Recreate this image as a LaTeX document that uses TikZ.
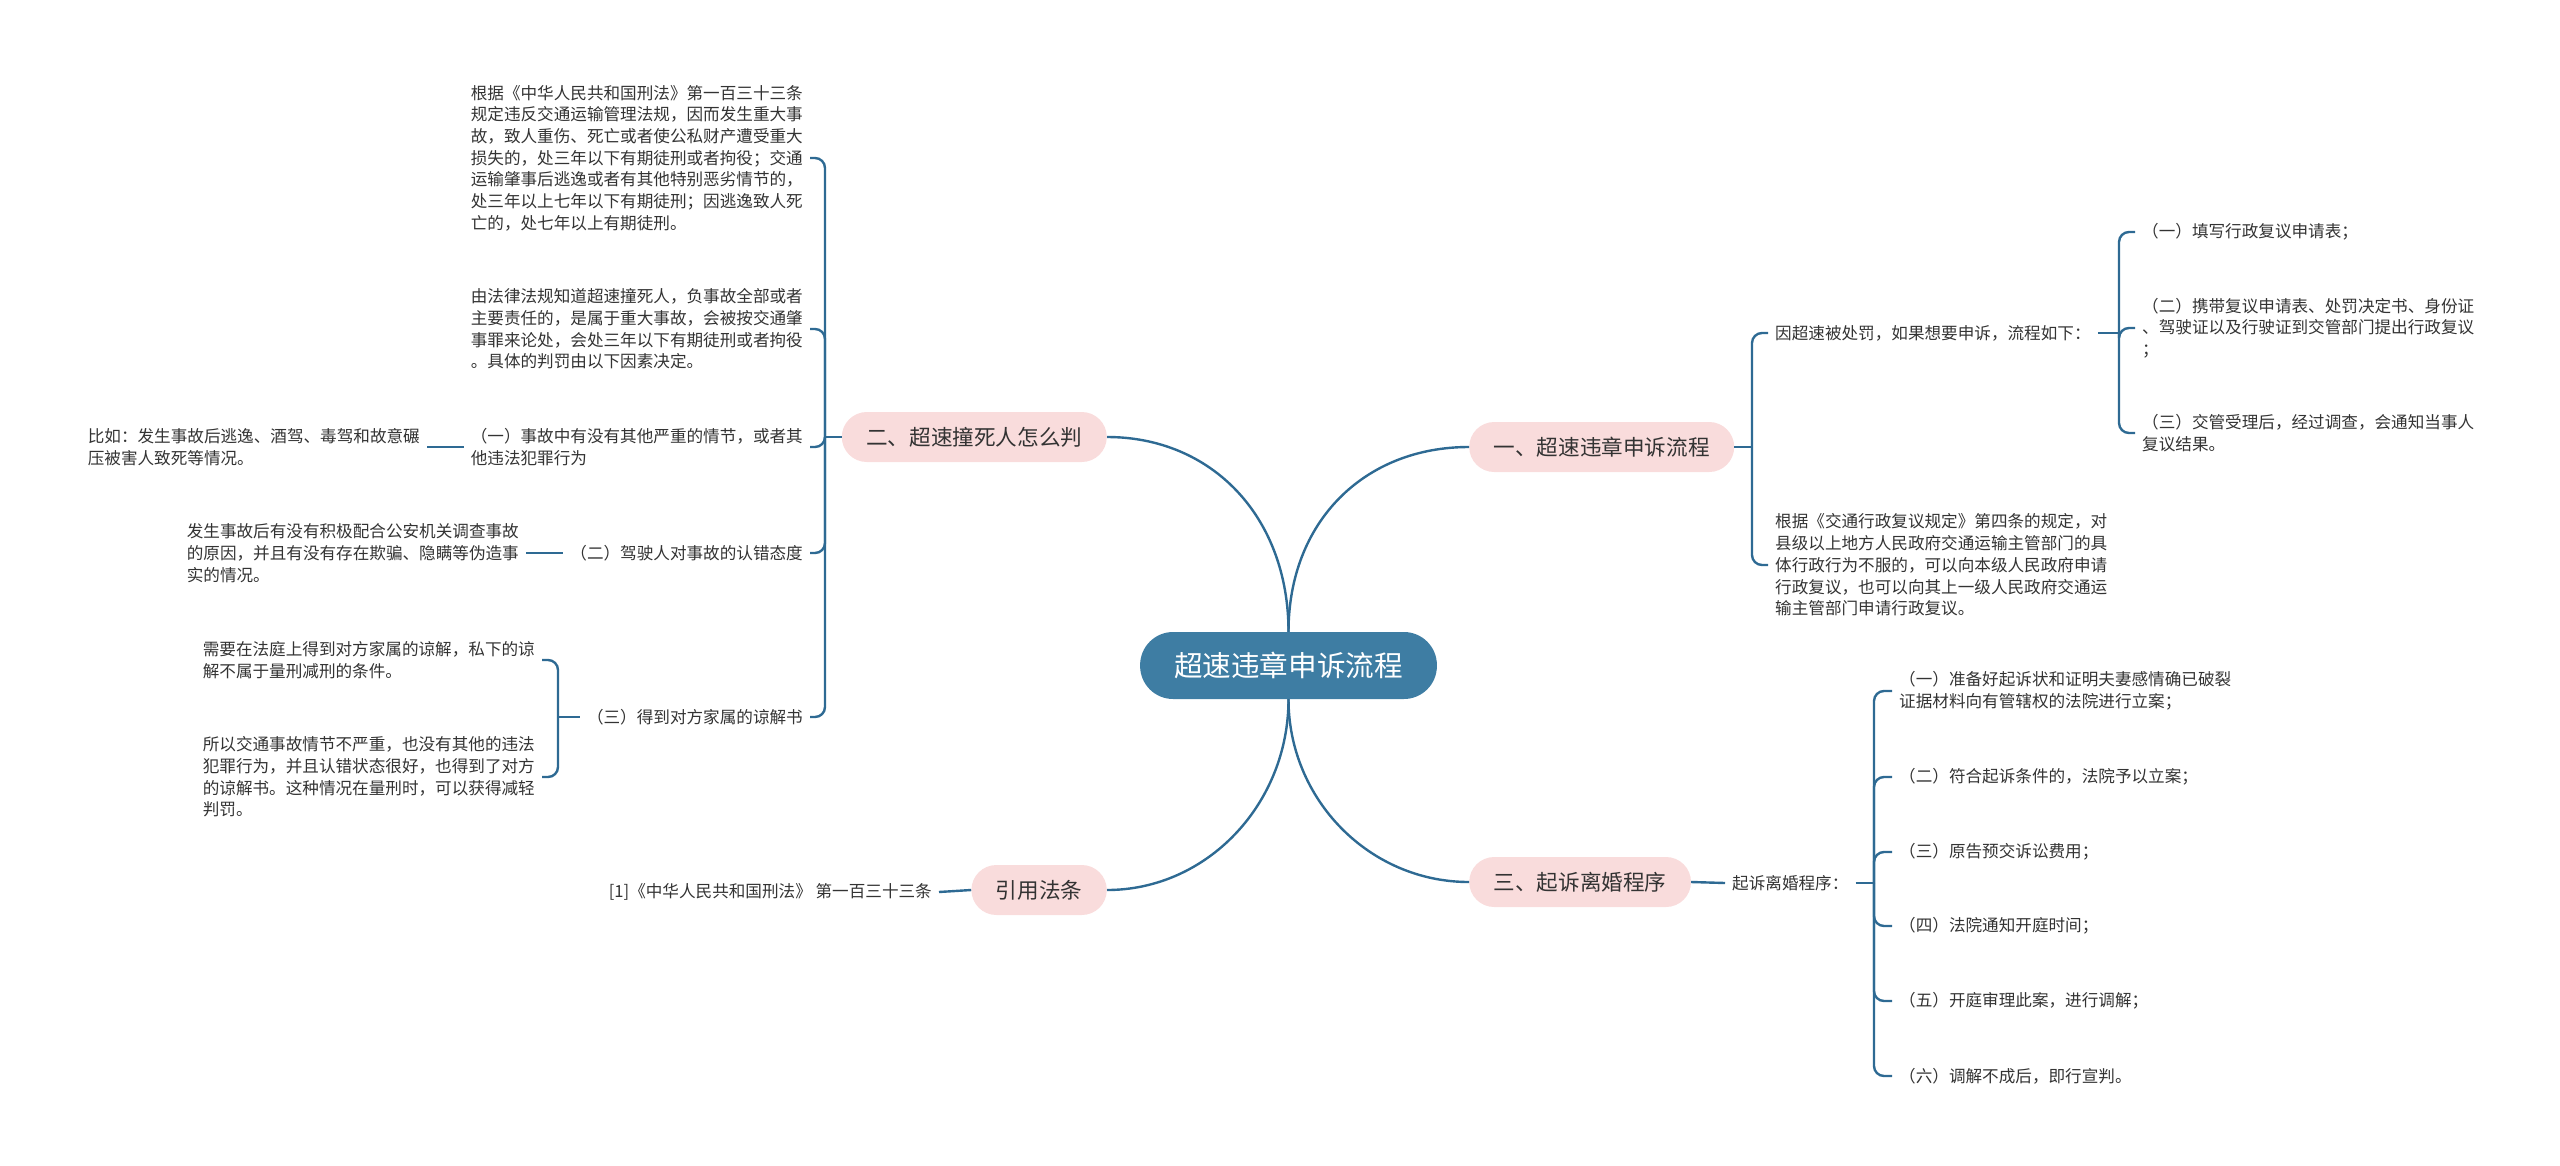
\documentclass[tikz,border=0pt]{standalone}
\usepackage{fontspec}
\setmainfont{Noto Sans CJK SC}
\definecolor{linkblue}{HTML}{2E6A93}
\definecolor{rootblue}{HTML}{3E7DA3}
\definecolor{topicpink}{HTML}{F9DCDC}
\definecolor{inkgray}{HTML}{333333}
\begin{document}
\begin{tikzpicture}[x=1pt, y=-1pt,
		link/.style={draw=linkblue, line width=2.4pt},
		brace/.style={link, rounded corners=10pt},
		root/.style={fill=rootblue, text=white, rounded corners=33pt, minimum height=67pt, inner xsep=34pt, inner ysep=0pt, font=\fontsize{28.6pt}{34pt}\selectfont},
		topic/.style={fill=topicpink, text=inkgray, rounded corners=25pt, minimum height=50pt, inner xsep=24.5pt, inner ysep=0pt, font=\fontsize{21.6pt}{26pt}\selectfont},
		leaf/.style={text=inkgray, align=left, inner xsep=7pt, inner ysep=0pt, font=\fontsize{16.6pt}{21.7pt}\selectfont}]
	\useasboundingbox (0,0) rectangle (2560,1165);
	\node[root] (root) at (1288.5,665.5) {超速违章申诉流程};
	\node[topic, anchor=west] (b1) at (1469,447) {一、超速违章申诉流程};
	\node[topic, anchor=east] (b2) at (1107,437) {二、超速撞死人怎么判};
	\node[topic, anchor=west] (b3) at (1469,882) {三、起诉离婚程序};
	\node[topic, anchor=east] (b4) at (1107,890) {引用法条};
	\draw[link] (root.north) .. controls +(0,-110) and +(-105,0) .. (b1.west);
	\draw[link] (root.north) .. controls +(0,-115) and +(105,0) .. (b2.east);
	\draw[link] (root.south) .. controls +(0,100) and +(-100,0) .. (b3.west);
	\draw[link] (root.south) .. controls +(0,105) and +(100,0) .. (b4.east);

	\node[leaf, anchor=west] (c11) at (1768,333) {因超速被处罚，如果想要申诉，流程如下：};
	\node[leaf, anchor=west] (c12) at (1768,565) {根据《交通行政复议规定》第四条的规定，对\\县级以上地方人民政府交通运输主管部门的具\\体行政行为不服的，可以向本级人民政府申请\\行政复议，也可以向其上一级人民政府交通运\\输主管部门申请行政复议。};
	\coordinate (j1) at (1752,447);
	\draw[link] (b1.east) -- (j1);
	\draw[brace] (j1) |- (c11.west);
	\draw[brace] (j1) |- (c12.west);
	\node[leaf, anchor=west] (c111) at (2135,232) {（一）填写行政复议申请表；};
	\node[leaf, anchor=west] (c112) at (2135,328) {（二）携带复议申请表、处罚决定书、身份证\\、驾驶证以及行驶证到交管部门提出行政复议\\；};
	\node[leaf, anchor=west] (c113) at (2135,433) {（三）交管受理后，经过调查，会通知当事人\\复议结果。};
	\coordinate (j11) at (2119,333);
	\draw[link] (c11.east) -- (j11);
	\draw[brace] (j11) |- (c111.west);
	\draw[brace] (j11) |- (c112.west);
	\draw[brace] (j11) |- (c113.west);

	\node[leaf, anchor=west] (c3) at (1725,883) {起诉离婚程序：};
	\draw[link] (b3.east) -- (c3.west);
	\coordinate (j3) at (1874,883);
	\draw[link] (c3.east) -- (j3);
	\node[leaf, anchor=west] (c31) at (1892,691) {（一）准备好起诉状和证明夫妻感情确已破裂\\证据材料向有管辖权的法院进行立案；};
	\node[leaf, anchor=west] (c32) at (1892,777) {（二）符合起诉条件的，法院予以立案；};
	\node[leaf, anchor=west] (c33) at (1892,852) {（三）原告预交诉讼费用；};
	\node[leaf, anchor=west] (c34) at (1892,926) {（四）法院通知开庭时间；};
	\node[leaf, anchor=west] (c35) at (1892,1001) {（五）开庭审理此案，进行调解；};
	\node[leaf, anchor=west] (c36) at (1892,1076) {（六）调解不成后，即行宣判。};
	\foreach \k in {1,...,6}
		\draw[brace] (j3) |- (c3\k.west);

	\coordinate (j2) at (825,437);
	\draw[link] (b2.west) -- (j2);
	\node[leaf, anchor=east] (c21) at (810,158) {根据《中华人民共和国刑法》第一百三十三条\\规定违反交通运输管理法规，因而发生重大事\\故，致人重伤、死亡或者使公私财产遭受重大\\损失的，处三年以下有期徒刑或者拘役；交通\\运输肇事后逃逸或者有其他特别恶劣情节的，\\处三年以上七年以下有期徒刑；因逃逸致人死\\亡的，处七年以上有期徒刑。};
	\node[leaf, anchor=east] (c22) at (810,329) {由法律法规知道超速撞死人，负事故全部或者\\主要责任的，是属于重大事故，会被按交通肇\\事罪来论处，会处三年以下有期徒刑或者拘役\\。具体的判罚由以下因素决定。};
	\node[leaf, anchor=east] (c23) at (810,447) {（一）事故中有没有其他严重的情节，或者其\\他违法犯罪行为};
	\node[leaf, anchor=east] (c24) at (810,553) {（二）驾驶人对事故的认错态度};
	\node[leaf, anchor=east] (c25) at (810,717) {（三）得到对方家属的谅解书};
	\foreach \k in {1,...,5}
		\draw[brace] (j2) |- (c2\k.east);
	\node[leaf, anchor=east] (c231) at (427,447) {比如：发生事故后逃逸、酒驾、毒驾和故意碾\\压被害人致死等情况。};
	\draw[link] (c231.east) -- (c23.west);
	\node[leaf, anchor=east] (c241) at (526,553) {发生事故后有没有积极配合公安机关调查事故\\的原因，并且有没有存在欺骗、隐瞒等伪造事\\实的情况。};
	\draw[link] (c241.east) -- (c24.west);
	\coordinate (j25) at (558,717);
	\draw[link] (c25.west) -- (j25);
	\node[leaf, anchor=east] (c251) at (542,660) {需要在法庭上得到对方家属的谅解，私下的谅\\解不属于量刑减刑的条件。};
	\node[leaf, anchor=east] (c252) at (542,777) {所以交通事故情节不严重，也没有其他的违法\\犯罪行为，并且认错状态很好，也得到了对方\\的谅解书。这种情况在量刑时，可以获得减轻\\判罚。};
	\draw[brace] (j25) |- (c251.east);
	\draw[brace] (j25) |- (c252.east);

	\node[leaf, anchor=east] (c41) at (939,892) {[1]《中华人民共和国刑法》 第一百三十三条};
	\draw[link] (b4.west) -- (c41.east);
\end{tikzpicture}
\end{document}
